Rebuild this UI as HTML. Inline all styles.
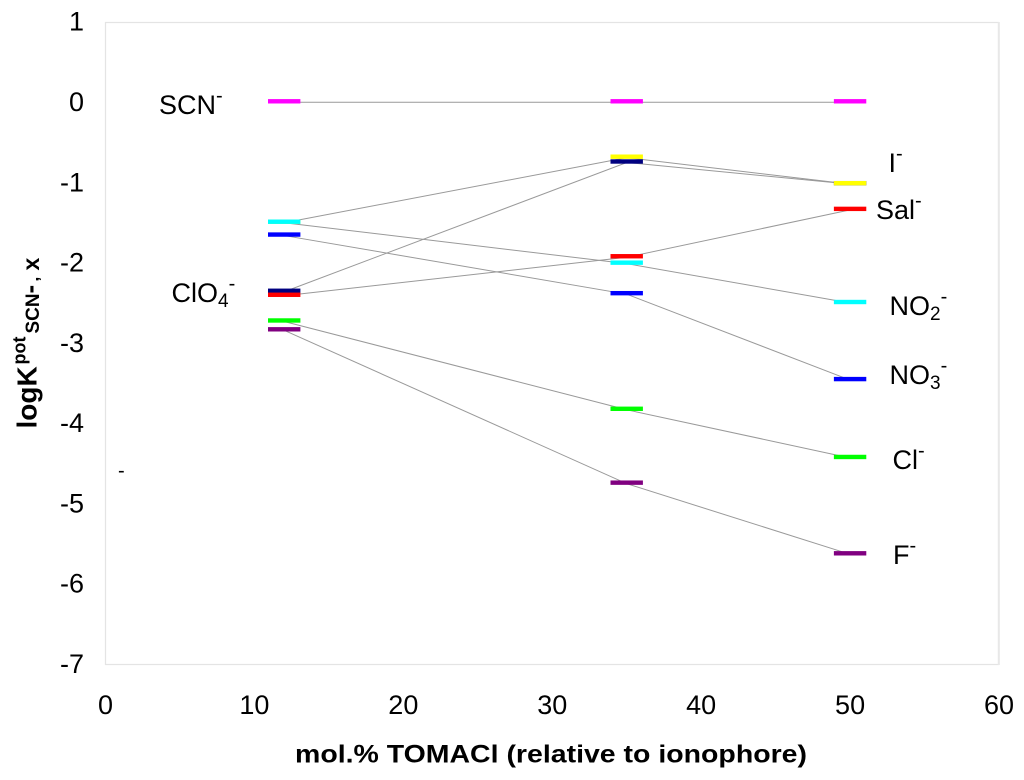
<!DOCTYPE html>
<html lang="en">
<head>
<meta charset="utf-8">
<title>logK pot vs mol.% TOMACl</title>
<style>
html,body{margin:0;padding:0;background:#fff;}
svg{display:block;font-family:"Liberation Sans",Arial,sans-serif;}
.tick{font-size:27px;fill:#000;}
.lab{font-size:27px;fill:#000;}
.title{font-size:25px;font-weight:bold;fill:#000;}
.ytitle{font-weight:bold;fill:#000;}
</style>
</head>
<body>
<svg id="chart" width="1024" height="780" viewBox="0 0 1024 780" xmlns="http://www.w3.org/2000/svg">
  <rect x="0" y="0" width="1024" height="780" fill="#fff"/>
  <g fill="none">
    <path d="M999 22.5H105.5V664.5H999" stroke="#e4e4e4" stroke-width="1.2"/>
    <path d="M998.8 22V665" stroke="#e8e8e8" stroke-width="2"/>
  </g>
  <g id="lines"></g>
  <g id="bars"></g>
  <g id="xticks"></g>
  <g id="yticks"></g>

  <text class="lab" x="159" y="114">SCN<tspan font-size="20" dy="-12">-</tspan></text>
  <text class="lab" x="171.5" y="302">ClO<tspan font-size="19" dy="5">4</tspan><tspan font-size="20" dy="-17">-</tspan></text>
  <text class="lab" x="888.5" y="172">I<tspan font-size="20" dy="-12">-</tspan></text>
  <text class="lab" x="876" y="219">Sal<tspan font-size="20" dy="-12">-</tspan></text>
  <text class="lab" x="889.5" y="315">NO<tspan font-size="19" dy="5">2</tspan><tspan font-size="20" dy="-17">-</tspan></text>
  <text class="lab" x="889.5" y="384">NO<tspan font-size="19" dy="5">3</tspan><tspan font-size="20" dy="-17">-</tspan></text>
  <text class="lab" x="892.5" y="469">Cl<tspan font-size="20" dy="-12">-</tspan></text>
  <text class="lab" x="893" y="564">F<tspan font-size="20" dy="-12">-</tspan></text>
  <text x="118" y="477" font-size="20" fill="#000">-</text>

  <text class="title" x="295" y="762.5" textLength="512" lengthAdjust="spacingAndGlyphs">mol.% TOMACl (relative to ionophore)</text>
  <text class="ytitle" transform="translate(36.7 428.5) rotate(-90)" font-size="28"><tspan x="0" y="0">logK</tspan><tspan x="64" y="-11" font-size="18">pot</tspan><tspan x="95" y="2.5" font-size="19">SCN</tspan><tspan x="135" y="1.8" font-size="26">-</tspan><tspan x="147" y="2" font-size="17">,</tspan><tspan x="158" y="2.5" font-size="23">x</tspan></text>
</svg>
<script>
const xValues = [12, 35, 50];
const xTickLabels = [0, 10, 20, 30, 40, 50, 60];
const yTickLabels = [1, 0, -1, -2, -3, -4, -5, -6, -7];
const scnValues = [0, 0, 0];
const clo4Values = [-2.36, -0.75, -1.02];
const iodideValues = [-1.50, -0.69, -1.02];
const salicylateValues = [-2.41, -1.93, -1.34];
const no2Values = [-1.50, -2.01, -2.50];
const no3Values = [-1.66, -2.39, -3.46];
const chlorideValues = [-2.73, -3.83, -4.43];
const fluorideValues = [-2.84, -4.75, -5.63];

const NS = 'http://www.w3.org/2000/svg';
function xScale(v) { return 105.5 + v * (999 - 105.5) / 60; }
function yScale(v) { return 22 + (1 - v) * (664.3 - 22) / 8; }

const seriesList = [
  ['scn', scnValues, '#ff00ff'],
  ['clo4', clo4Values, '#000080'],
  ['iodide', iodideValues, '#ffff00'],
  ['salicylate', salicylateValues, '#ff0000'],
  ['no2', no2Values, '#00ffff'],
  ['no3', no3Values, '#0000ff'],
  ['chloride', chlorideValues, '#00ff00'],
  ['fluoride', fluorideValues, '#800080']
];

const linesG = document.getElementById('lines');
const barsG = document.getElementById('bars');
seriesList.forEach(function (s) {
  const line = document.createElementNS(NS, 'polyline');
  
  
  line.setAttribute('points', s[1].map(function (v, i) { return xScale(xValues[i]) + ',' + yScale(v); }).join(' '));
  line.setAttribute('fill', 'none');
  line.setAttribute('stroke', '#999');
  line.setAttribute('stroke-width', '1');
  linesG.appendChild(line);
});
seriesList.forEach(function (s) {
  s[1].forEach(function (v, i) {
    const bar = document.createElementNS(NS, 'rect');
    
    
    bar.setAttribute('x', xScale(xValues[i]) - 16.2);
    bar.setAttribute('y', yScale(v) - 3.2);
    bar.setAttribute('width', 32.4);
    bar.setAttribute('height', 4.4);
    bar.setAttribute('fill', s[2]);
    barsG.appendChild(bar);
  });
});

const xTicksG = document.getElementById('xticks');
xTickLabels.forEach(function (t) {
  const el = document.createElementNS(NS, 'text');
  
  
  el.setAttribute('class', 'tick');
  el.setAttribute('x', xScale(t));
  el.setAttribute('y', 714);
  el.setAttribute('text-anchor', 'middle');
  el.textContent = t;
  xTicksG.appendChild(el);
});
const yTicksG = document.getElementById('yticks');
yTickLabels.forEach(function (t) {
  const el = document.createElementNS(NS, 'text');
  
  
  el.setAttribute('class', 'tick');
  el.setAttribute('x', 84);
  el.setAttribute('y', yScale(t) + 8.7);
  el.setAttribute('text-anchor', 'end');
  el.textContent = t;
  yTicksG.appendChild(el);
});
</script>
</body>
</html>
